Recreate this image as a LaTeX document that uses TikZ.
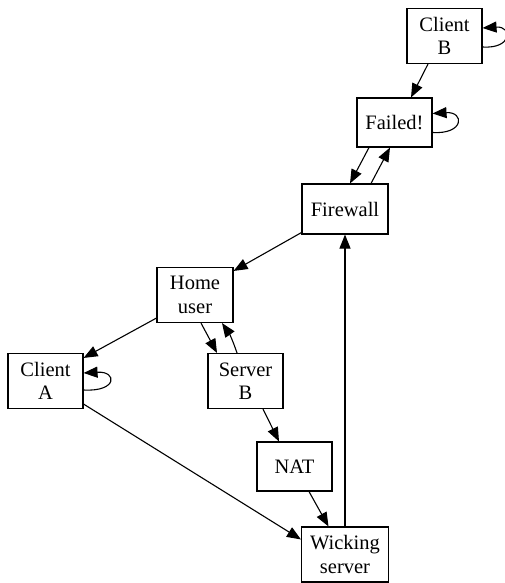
\documentclass[tikz,border=0pt]{standalone}
\usepackage{fontspec}
\setmainfont{Liberation Serif}
\usetikzlibrary{arrows.meta}
\begin{document}
\begin{tikzpicture}[x=1pt,y=-1pt,
  box/.style={draw,line width=1.1pt,inner sep=0pt,minimum width=75pt,minimum height=49pt,align=center,font=\fontsize{20.5}{23.5}\selectfont},
  tall/.style={minimum height=55pt},
  edge/.style={line width=1.1pt,-{Triangle[length=14pt,width=11pt]}}]
\useasboundingbox (0,0) rectangle (505,583);
\node[box,tall] (cb) at (444.5,36) {Client\\B};
\node[box] (fail) at (394.5,122.5) {Failed!};
\node[box,minimum width=86pt,minimum height=50pt] (fw) at (345,209) {Firewall};
\node[box,tall,minimum width=76pt] (hu) at (195,295) {Home\\user};
\node[box,tall] (ca) at (45.5,381) {Client\\A};
\node[box,tall] (sb) at (245.5,381) {Server\\B};
\node[box] (nat) at (294.5,466.5) {NAT};
\node[box,tall,minimum width=87pt] (ws) at (345,554.5) {Wicking\\server};
% edges
\draw[edge] ([xshift=-16.5pt]cb.south) -- ([xshift=16.5pt]fail.north);
\draw[edge] ([yshift=-11pt]cb.east) .. controls +(30,2) and +(30,-2) .. ([yshift=8pt]cb.east);
\draw[edge] ([yshift=-10pt]fail.east) .. controls +(32,2) and +(32,-2) .. ([yshift=9pt]fail.east);
\draw[edge] ([yshift=-9pt]ca.east) .. controls +(34,2) and +(34,-2) .. ([yshift=8pt]ca.east);
\draw[edge] ([xshift=-25.5pt]fail.south) -- ([xshift=5pt]fw.north);
\draw[edge] ([xshift=26pt]fw.north) -- ([xshift=-4.5pt]fail.south);
\draw[edge] ([yshift=2pt]fw.south west) -- ([yshift=-4pt]hu.north east);
\draw[edge] ([yshift=5pt]hu.south west) -- ([yshift=-5pt]ca.north east);
\draw[edge] ([xshift=6pt]hu.south) -- ([xshift=-28.5pt]sb.north);
\draw[edge] ([xshift=-8.5pt]sb.north) to[bend right=8] ([xshift=27pt]hu.south);
\draw[edge] ([yshift=5pt]ca.south east) -- ([yshift=-13pt]ws.north west);
\draw[edge] ([xshift=17.5pt]sb.south) -- ([xshift=-15.5pt]nat.north);
\draw[edge] ([xshift=14.5pt]nat.south) -- ([xshift=-16.5pt]ws.north);
\draw[edge] (ws.north) -- (fw.south);
\end{tikzpicture}
\end{document}
